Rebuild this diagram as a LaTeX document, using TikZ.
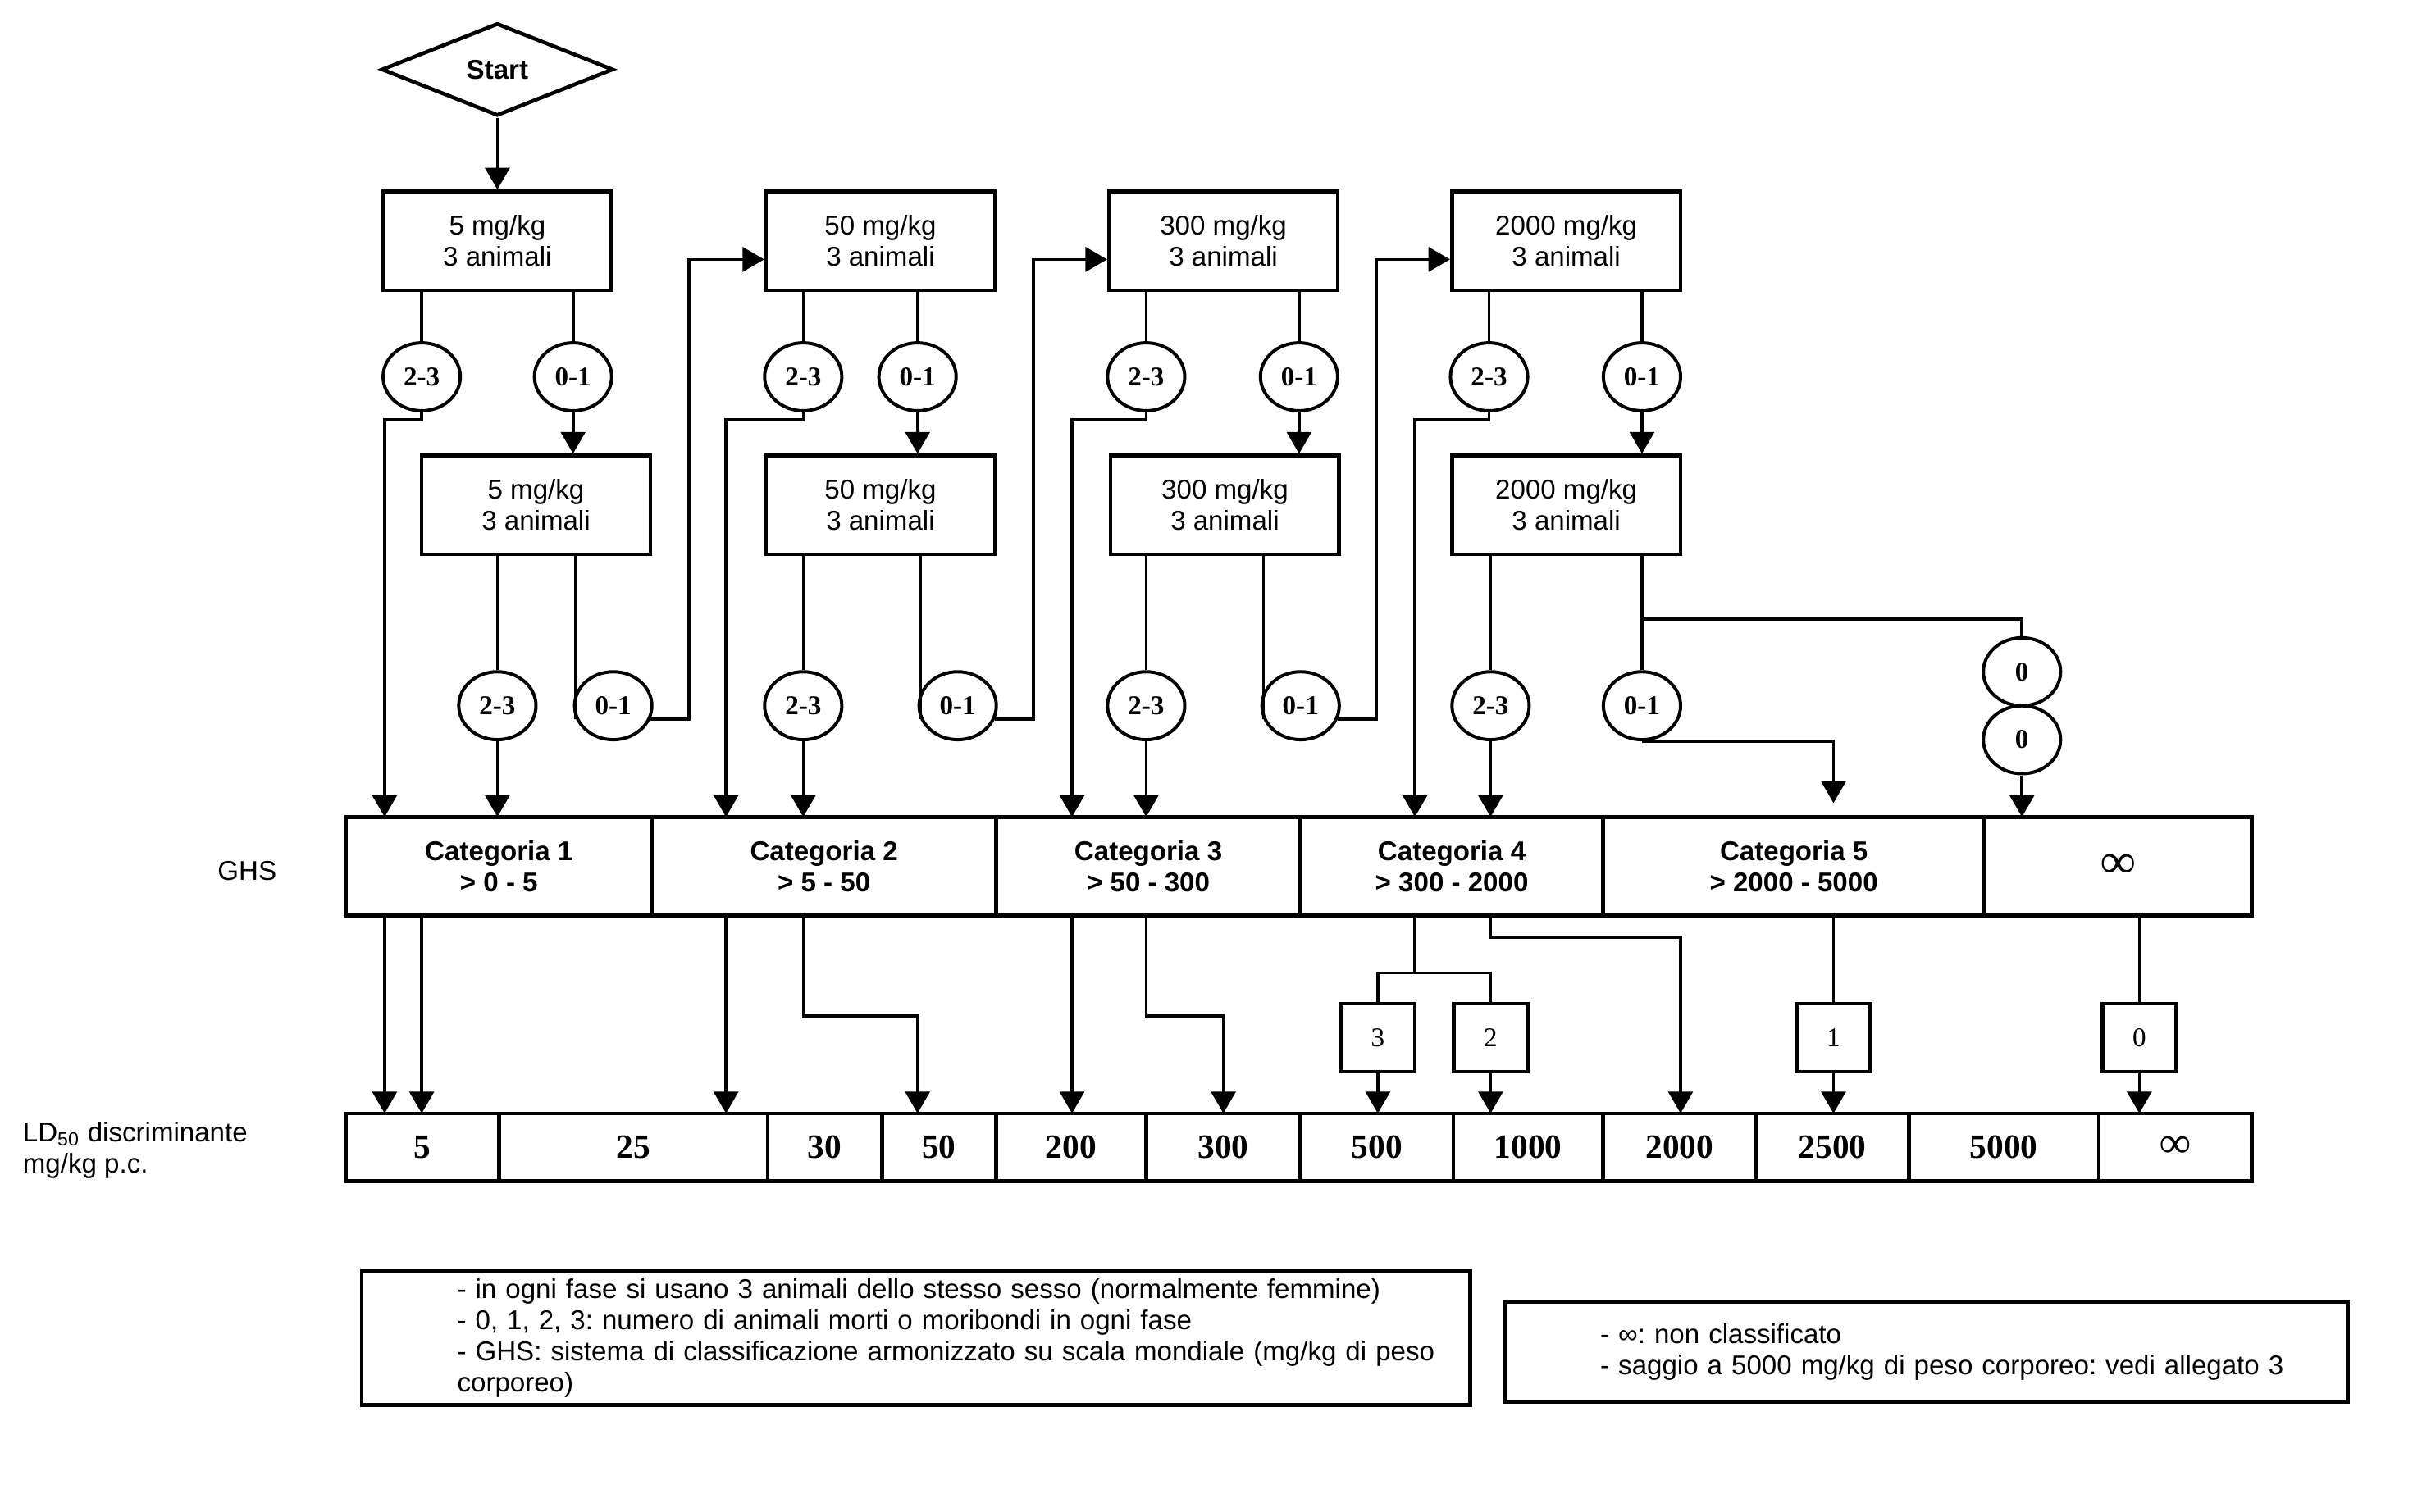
\documentclass[tikz,border=0pt]{standalone}
\usepackage{fontspec}
\setmainfont{Liberation Sans}
\newfontfamily\numfont{Liberation Serif}
\usetikzlibrary{positioning,shapes.geometric,arrows.meta}
\frenchspacing

\begin{document}
\begin{tikzpicture}[x=0.02cm,y=-0.02cm,line width=1.1pt,
  dose/.style={draw,line width=1.4pt,minimum width=2.96cm,minimum height=1.28cm,inner sep=0pt,
               align=center,font=\fontsize{10}{11.5}\selectfont},
  dead/.style={draw,ellipse,line width=1.2pt,minimum width=1cm,minimum height=0.88cm,inner sep=0pt,
               font=\numfont\bfseries\fontsize{10}{12}\selectfont},
  ghs/.style={draw,line width=1.4pt,minimum height=1.28cm,inner sep=0pt,outer sep=0pt,
              align=center,font=\bfseries\fontsize{10}{11.5}\selectfont},
  ld/.style={draw,line width=1.4pt,minimum height=0.88cm,inner sep=0pt,outer sep=0pt,
             font=\numfont\bfseries\fontsize{12.5}{14}\selectfont},
  num/.style={draw,line width=1.4pt,minimum width=0.96cm,minimum height=0.88cm,inner sep=0pt,
              font=\numfont\fontsize{10}{12}\selectfont},
  note/.style={draw,line width=1.4pt,inner sep=0pt,align=left,font=\fontsize{10}{11.5}\selectfont},
  arr/.style={-{Triangle[length=8pt,width=9pt]}}]
  \useasboundingbox (0,0) rectangle (1568,979);

  % start and first doses
  \node[draw,diamond,aspect=2.5,line width=1.4pt,minimum width=3cm,minimum height=1.2cm,inner sep=0pt,
        font=\bfseries\fontsize{10}{12}\selectfont] (start) at (322,45) {Start};
  \node[dose] (d5a) at (322,156) {5 mg/kg\\3 animali};
  \node[dose] (d50a) at (570,156) {50 mg/kg\\3 animali};
  \node[dose] (d300a) at (792,156) {300 mg/kg\\3 animali};
  \node[dose] (d2000a) at (1014,156) {2000 mg/kg\\3 animali};

  \node[dead] (a5x) at (273,244) {2-3};
  \node[dead] (a5y) at (371,244) {0-1};
  \node[dead] (a50x) at (520,244) {2-3};
  \node[dead] (a50y) at (594,244) {0-1};
  \node[dead] (a300x) at (742,244) {2-3};
  \node[dead] (a300y) at (841,244) {0-1};
  \node[dead] (a2000x) at (964,244) {2-3};
  \node[dead] (a2000y) at (1063,244) {0-1};

  % second doses
  \node[dose] (d5b) at (347,327) {5 mg/kg\\3 animali};
  \node[dose] (d50b) at (570,327) {50 mg/kg\\3 animali};
  \node[dose] (d300b) at (793,327) {300 mg/kg\\3 animali};
  \node[dose] (d2000b) at (1014,327) {2000 mg/kg\\3 animali};

  \node[dead] (b5x) at (322,457) {2-3};
  \node[dead] (b5y) at (397,457) {0-1};
  \node[dead] (b50x) at (520,457) {2-3};
  \node[dead] (b50y) at (620,457) {0-1};
  \node[dead] (b300x) at (742,457) {2-3};
  \node[dead] (b300y) at (842,457) {0-1};
  \node[dead] (b2000x) at (965,457) {2-3};
  \node[dead] (b2000y) at (1063,457) {0-1};
  \node[dead] (z1) at (1309,435) {0};
  \node[dead] (z2) at (1309,479) {0};

  % GHS row
  \node (ghslab) at (160,564) {GHS};
  \node[ghs,minimum width=3.96cm] (cat1) at (323,561) {Categoria 1\\> 0 - 5};
  \node[ghs,minimum width=4.46cm,right=0pt of cat1] (cat2) {Categoria 2\\> 5 - 50};
  \node[ghs,minimum width=3.94cm,right=0pt of cat2] (cat3) {Categoria 3\\> 50 - 300};
  \node[ghs,minimum width=3.92cm,right=0pt of cat3] (cat4) {Categoria 4\\> 300 - 2000};
  \node[ghs,minimum width=4.94cm,right=0pt of cat4] (cat5) {Categoria 5\\> 2000 - 5000};
  \node[ghs,minimum width=3.46cm,right=0pt of cat5,
        font=\numfont\bfseries\fontsize{18}{20}\selectfont] (cat6) {∞};

  % number of dead animals
  \node[num] (n3) at (892,672) {3};
  \node[num] (n2) at (965,672) {2};
  \node[num] (n1) at (1187,672) {1};
  \node[num] (n0) at (1385,672) {0};

  % LD50 row
  \node[anchor=west,align=left,font=\fontsize{10}{11.3}\selectfont] (ldlab) at (8,745)
       {LD\textsubscript{50} discriminante\\mg/kg p.c.};
  \node[ld,minimum width=1.98cm] (ld5) at (273.5,743) {5};
  \node[ld,minimum width=3.48cm,right=0pt of ld5] (ld25) {25};
  \node[ld,minimum width=1.48cm,right=0pt of ld25] (ld30) {30};
  \node[ld,minimum width=1.48cm,right=0pt of ld30] (ld50) {50};
  \node[ld,minimum width=1.94cm,right=0pt of ld50] (ld200) {200};
  \node[ld,minimum width=2.00cm,right=0pt of ld200] (ld300) {300};
  \node[ld,minimum width=1.98cm,right=0pt of ld300] (ld500) {500};
  \node[ld,minimum width=1.94cm,right=0pt of ld500] (ld1000) {1000};
  \node[ld,minimum width=1.98cm,right=0pt of ld1000] (ld2000) {2000};
  \node[ld,minimum width=1.98cm,right=0pt of ld2000] (ld2500) {2500};
  \node[ld,minimum width=2.46cm,right=0pt of ld2500] (ld5000) {5000};
  \node[ld,minimum width=1.98cm,right=0pt of ld5000,font=\numfont\bfseries\fontsize{16}{18}\selectfont] (ldinf) {∞};

  % notes
  \node[note,minimum width=14.36cm,minimum height=1.74cm,text width=11.88cm] (notea) at (593,866.5)
       {\mbox{- in ogni fase si usano 3 animali dello stesso sesso (normalmente femmine)}\\
        \mbox{- 0, 1, 2, 3: numero di animali morti o moribondi in ogni fase}\\
        \mbox{- GHS: sistema di classificazione armonizzato su scala mondiale (mg/kg di peso}\\
        corporeo)};
  \node[note,minimum width=10.92cm,minimum height=1.3cm,text width=8.44cm] (noteb) at (1247,875.5)
       {\mbox{- ∞: non classificato}\\
        \mbox{- saggio a 5000 mg/kg di peso corporeo: vedi allegato 3}};

  % bends of the connectors
  \coordinate (j5) at (249,272);
  \coordinate (j50) at (470,272);
  \coordinate (j300) at (694,272);
  \coordinate (j2000) at (916,272);
  \coordinate (k5) at (446,168);
  \coordinate (k50) at (669,168);
  \coordinate (k300) at (891,168);
  \coordinate (fork) at (1063,401);
  \coordinate (f5) at (1187,520);
  \coordinate (s50) at (594,658);
  \coordinate (s300) at (792,658);
  \coordinate (t4) at (916,630);
  \coordinate (s2000) at (1088,607);

  \draw[arr] (start) -- (d5a);
  % first step
  \draw (a5x.north |- d5a.south) -- (a5x);
  \draw (a5y.north |- d5a.south) -- (a5y);
  \draw[arr] (a5y) -- (a5y |- d5b.north);
  \draw[arr] (a5x.south) -- (a5x.south |- j5) -- (j5) -- (j5 |- cat1.north);
  \draw (a50x.north |- d50a.south) -- (a50x);
  \draw (a50y.north |- d50a.south) -- (a50y);
  \draw[arr] (a50y) -- (a50y |- d50b.north);
  \draw[arr] (a50x.south) -- (a50x.south |- j50) -- (j50) -- (j50 |- cat2.north);
  \draw (a300x.north |- d300a.south) -- (a300x);
  \draw (a300y.north |- d300a.south) -- (a300y);
  \draw[arr] (a300y) -- (a300y |- d300b.north);
  \draw[arr] (a300x.south) -- (a300x.south |- j300) -- (j300) -- (j300 |- cat3.north);
  \draw (a2000x.north |- d2000a.south) -- (a2000x);
  \draw (a2000y.north |- d2000a.south) -- (a2000y);
  \draw[arr] (a2000y) -- (a2000y |- d2000b.north);
  \draw[arr] (a2000x.south) -- (a2000x.south |- j2000) -- (j2000) -- (j2000 |- cat4.north);
  % second step
  \draw (b5x.north |- d5b.south) -- (b5x);
  \draw[arr] (b5x) -- (b5x |- cat1.north);
  \draw (b5y.200 |- d5b.south) -- (b5y.200);
  \draw[arr] (b5y.340) -| (k5) -- (d50a.west |- k5);
  \draw (b50x.north |- d50b.south) -- (b50x);
  \draw[arr] (b50x) -- (b50x |- cat2.north);
  \draw (b50y.200 |- d50b.south) -- (b50y.200);
  \draw[arr] (b50y.340) -| (k50) -- (d300a.west |- k50);
  \draw (b300x.north |- d300b.south) -- (b300x);
  \draw[arr] (b300x) -- (b300x |- cat3.north);
  \draw (b300y.200 |- d300b.south) -- (b300y.200);
  \draw[arr] (b300y.340) -| (k300) -- (d2000a.west |- k300);
  \draw (b2000x.north |- d2000b.south) -- (b2000x);
  \draw[arr] (b2000x) -- (b2000x |- cat4.north);
  \draw (b2000y.north |- d2000b.south) -- (b2000y);
  \draw (fork) -| (z1);
  \draw[arr] (z2) -- (z2 |- cat6.north);
  \draw[arr] (b2000y.south) -| (f5);
  % GHS to LD50
  \draw[arr] (j5 |- cat1.south) -- (j5 |- ld5.north);
  \draw[arr] (a5x |- cat1.south) -- (a5x |- ld5.north);
  \draw[arr] (j50 |- cat2.south) -- (j50 |- ld25.north);
  \draw[arr] (b50x |- cat2.south) |- (s50) -- (s50 |- ld50.north);
  \draw[arr] (j300 |- cat3.south) -- (j300 |- ld200.north);
  \draw[arr] (b300x |- cat3.south) |- (s300) -- (s300 |- ld300.north);
  \draw (j2000 |- cat4.south) -- (t4);
  \draw (n3) |- (t4) -| (n2);
  \draw[arr] (n3) -- (n3 |- ld500.north);
  \draw[arr] (n2) -- (n2 |- ld1000.north);
  \draw[arr] (b2000x |- cat4.south) |- (s2000) -- (s2000 |- ld2000.north);
  \draw (n1 |- cat5.south) -- (n1);
  \draw[arr] (n1) -- (n1 |- ld2500.north);
  \draw (n0 |- cat6.south) -- (n0);
  \draw[arr] (n0) -- (n0 |- ldinf.north);
\end{tikzpicture}
\end{document}
